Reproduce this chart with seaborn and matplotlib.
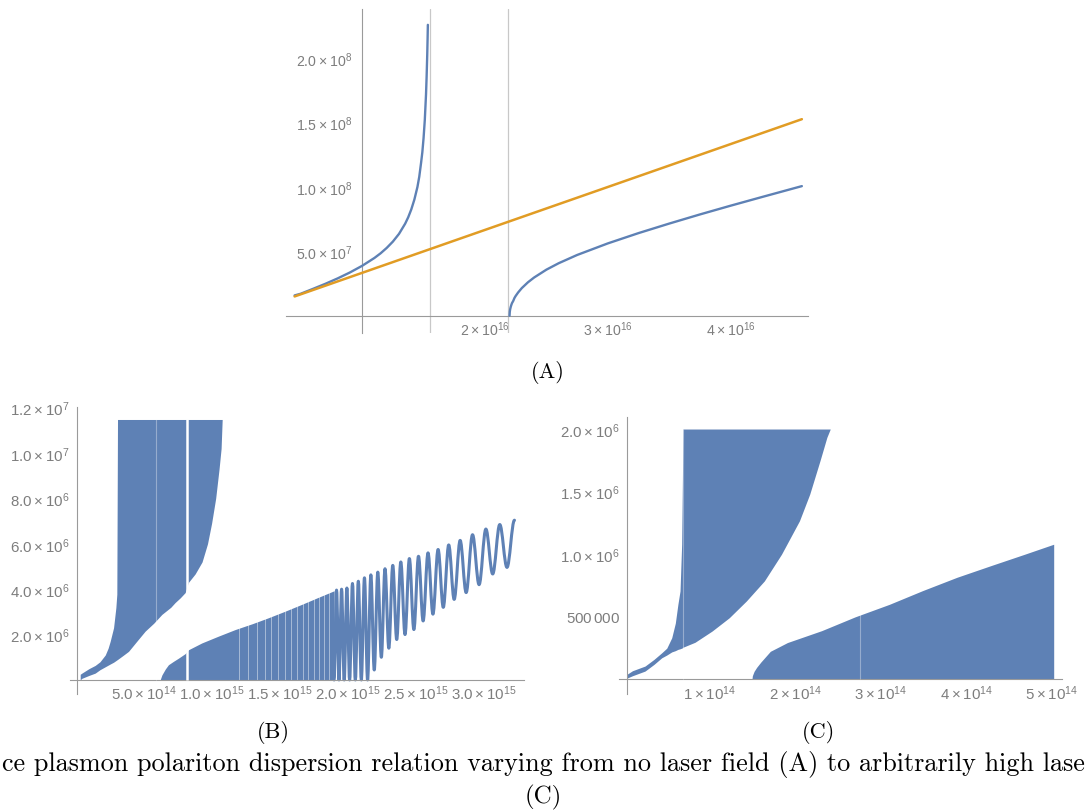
import matplotlib
matplotlib.use("Agg")
import numpy as np
import pandas as pd
import matplotlib.pyplot as plt
import seaborn as sns
from matplotlib.path import Path
from matplotlib.patches import PathPatch

# ---------------- data ----------------
# Panel A  (x in 1e16, y in 1e7)
a_low_x = [0.45, 0.5, 0.6, 0.7, 0.8, 0.9, 1.0, 1.1, 1.15, 1.2, 1.25, 1.3, 1.35, 1.375, 1.4,
           1.425, 1.45, 1.465, 1.48, 1.49, 1.50, 1.51, 1.52, 1.525, 1.53, 1.533, 1.535]
a_low_y = [1.58, 1.71, 2.09, 2.48, 2.90, 3.36, 3.88, 4.49, 4.85, 5.27, 5.76, 6.36, 7.15, 7.65, 8.26,
           9.02, 10.0, 10.8, 11.9, 12.7, 13.8, 15.2, 17.2, 18.6, 20.3, 21.6, 22.6]
a_up_x = [2.20, 2.202, 2.205, 2.21, 2.215, 2.22, 2.23, 2.24, 2.25, 2.27, 2.30, 2.35, 2.4, 2.5,
          2.6, 2.75, 3.0, 3.25, 3.5, 3.75, 4.0, 4.25, 4.58]
a_up_y = [0.0, 0.31, 0.50, 0.70, 0.85, 0.98, 1.15, 1.38, 1.54, 1.81, 2.15, 2.60, 2.97, 3.58,
          4.08, 4.72, 5.62, 6.42, 7.16, 7.87, 8.55, 9.21, 10.07]
a_light_x = [0.45, 4.58]
a_light_y = [1.50, 15.27]
a_vlines = [1.555, 2.19]
a_xticks = [2, 3, 4]
a_xlabels = [r"2\times10^{16}", r"3\times10^{16}", r"4\times10^{16}"]
a_yticks = [5, 10, 15, 20]
a_ylabels = [r"5.0\times10^{7}", r"1.0\times10^{8}", r"1.5\times10^{8}", r"2.0\times10^{8}"]

# Panel B  (x in 1e15, y in 1e6)
b_left_x = [0.035, 0.047, 0.1, 0.145, 0.18, 0.219, 0.24, 0.255, 0.28, 0.297, 0.304, 0.309,
            0.35, 0.39, 0.45, 0.512, 0.575, 0.635, 0.70, 0.732, 0.77, 0.806, 0.83, 0.879,
            0.93, 0.97, 1.0, 1.03, 1.055, 1.07, 1.078]
b_left_lo = [0.0, 0.07, 0.2, 0.3, 0.45, 0.58, 0.65, 0.7, 0.78, 0.85, 0.88, 0.9,
             1.08, 1.26, 1.7, 2.15, 2.5, 2.89, 3.2, 3.41, 3.62, 3.85, 4.3, 4.67,
             5.2, 6.0, 6.9, 8.0, 9.3, 10.2, 11.48]
b_left_hi = [0.25, 0.3, 0.5, 0.64, 0.8, 1.1, 1.4, 1.7, 2.3, 3.19, 3.78, 11.48,
             11.48, 11.48, 11.48, 11.48, 11.48, 11.48, 11.48, 11.48, 11.48, 11.48, 11.48, 11.48,
             11.48, 11.48, 11.48, 11.48, 11.48, 11.48, 11.48]
b_dense_x = [0.622, 0.635, 0.66, 0.683, 0.72, 0.757, 0.806, 0.83, 0.928, 1.05, 1.173, 1.30,
             1.417, 1.54, 1.662, 1.78, 1.90]
b_dense_hi = [0.0, 0.22, 0.48, 0.67, 0.82, 0.96, 1.16, 1.33, 1.63, 1.93, 2.22, 2.48,
              2.74, 3.03, 3.33, 3.63, 3.93]
b_stripes = [1.20, 1.27, 1.33, 1.39, 1.44, 1.49, 1.54, 1.585, 1.63, 1.67, 1.71, 1.75, 1.79,
             1.825, 1.86]
b_osc_x = [1.90, 1.918, 1.936, 1.955, 1.974, 1.994, 2.014, 2.035, 2.056, 2.078, 2.10, 2.123,
           2.146, 2.170, 2.195, 2.221, 2.247, 2.274, 2.302, 2.331, 2.36, 2.39, 2.421, 2.453,
           2.486, 2.52, 2.554, 2.59, 2.626, 2.664, 2.702, 2.742, 2.782, 2.826, 2.87, 2.917,
           2.965, 3.015, 3.065, 3.117, 3.17, 3.225]
b_osc_y = [0.0, 3.96, 0.0, 4.0, 0.0, 4.05, 0.0, 4.25, 0.0, 4.35, 0.0, 4.5,
           0.0, 4.63, 0.44, 4.75, 1.0, 4.9, 1.4, 5.05, 1.78, 5.2, 2.0, 5.35,
           2.22, 5.45, 2.6, 5.6, 2.9, 5.75, 3.2, 5.95, 3.55, 6.15, 3.85, 6.4,
           4.2, 6.65, 4.67, 6.85, 4.96, 7.04]
b_gaps = [0.82]
b_faint = [0.593]
b_xticks = [0.5, 1.0, 1.5, 2.0, 2.5, 3.0]
b_xlabels = [r"5.0\times10^{14}", r"1.0\times10^{15}", r"1.5\times10^{15}", r"2.0\times10^{15}",
             r"2.5\times10^{15}", r"3.0\times10^{15}"]
b_yticks = [2, 4, 6, 8, 10, 12]
b_ylabels = [r"2.0\times10^{6}", r"4.0\times10^{6}", r"6.0\times10^{6}", r"8.0\times10^{6}",
             r"1.0\times10^{7}", r"1.2\times10^{7}"]

# Panel C  (x in 1e14, y in 1e6)
c_left_x = [0.032, 0.1, 0.246, 0.35, 0.441, 0.50, 0.558, 0.60, 0.63, 0.655, 0.674, 0.683, 0.688,
            0.83, 1.03, 1.23, 1.43, 1.64, 1.84, 2.05, 2.17, 2.29, 2.37, 2.41]
c_left_lo = [0.01, 0.03, 0.067, 0.12, 0.173, 0.195, 0.22, 0.23, 0.24, 0.245, 0.25, 0.253, 0.257,
             0.297, 0.387, 0.493, 0.627, 0.787, 1.0, 1.267, 1.48, 1.747, 1.933, 2.0]
c_left_hi = [0.04, 0.07, 0.107, 0.16, 0.213, 0.25, 0.333, 0.45, 0.6, 0.707, 1.08, 1.6, 2.0,
             2.0, 2.0, 2.0, 2.0, 2.0, 2.0, 2.0, 2.0, 2.0, 2.0, 2.0]
c_right_x = [1.495, 1.50, 1.52, 1.55, 1.60, 1.71, 1.91, 2.31, 2.70, 3.10, 3.49, 3.89, 4.29, 4.68, 5.02]
c_right_hi = [0.0, 0.03, 0.065, 0.097, 0.14, 0.225, 0.295, 0.39, 0.5, 0.6, 0.71, 0.816, 0.91, 1.0, 1.08]
c_faint = [0.688, 2.76]
c_xticks = [1, 2, 3, 4, 5]
c_xlabels = [r"1\times10^{14}", r"2\times10^{14}", r"3\times10^{14}", r"4\times10^{14}", r"5\times10^{14}"]
c_yticks = [0.5, 1.0, 1.5, 2.0]
c_ylabels = [r"500\,000", r"1.0\times10^{6}", r"1.5\times10^{6}", r"2.0\times10^{6}"]

caption = "ce plasmon polariton dispersion relation varying from no laser field (A) to arbitrarily high lase"

# ---------------- style ----------------
BLUE = "#5E81B5"
ORANGE = "#E19C24"
AXC = "#9a9a9a"
LABC = "#7d7d7d"

sns.set_theme(style="white")
plt.rcParams["font.family"] = ["Liberation Sans", "DejaVu Sans"]

W, H = 1086, 812
fig = plt.figure(figsize=(W / 100, H / 100), dpi=100)
fig.patch.set_facecolor("white")


def add_axes_px(left, right, top, bottom):
    return fig.add_axes([left / W, 1 - bottom / H, (right - left) / W, (bottom - top) / H])


def style_axes(ax, xlim, ylim, yaxis_at, xt, xl, xminor, yt, yl, yminor, lsize, ypad):
    ax.set_facecolor("none")
    ax.set_xlim(*xlim)
    ax.set_ylim(*ylim)
    for s in ["top", "right"]:
        ax.spines[s].set_visible(False)
    ax.spines["left"].set_position(("data", yaxis_at))
    ax.spines["bottom"].set_position(("data", 0))
    for s in ["left", "bottom"]:
        ax.spines[s].set_color(AXC)
        ax.spines[s].set_linewidth(0.8)
    ax.set_xticks(xt)
    ax.set_xticklabels([r"$\mathregular{" + s + "}$" if s else "" for s in xl])
    ax.set_xticks(xminor, minor=True)
    ax.set_yticks(yt)
    ax.set_yticklabels([r"$\mathregular{" + s + "}$" for s in yl])
    ax.set_yticks(yminor, minor=True)
    ax.tick_params(which="major", direction="in", length=3.8, width=0.7, color=AXC,
                   labelcolor=LABC, labelsize=lsize)
    ax.tick_params(which="minor", direction="in", length=2.0, width=0.6, color=AXC)
    ax.tick_params(axis="x", pad=2.5)
    ax.tick_params(axis="y", pad=ypad)
    ax.set_xlabel("")
    ax.set_ylabel("")
    ax.grid(False)


# ---------------- panel A ----------------
axA = add_axes_px(286, 808, 10, 334)
for xv in a_vlines:
    axA.axvline(xv, color="#c8c8c8", lw=0.9, zorder=1)
dfA1 = pd.DataFrame({"x": a_low_x, "y": a_low_y})
dfA2 = pd.DataFrame({"x": a_up_x, "y": a_up_y})
dfA3 = pd.DataFrame({"x": a_light_x, "y": a_light_y})
sns.lineplot(data=dfA1, x="x", y="y", ax=axA, color=BLUE, lw=1.7, sort=False, zorder=3)
sns.lineplot(data=dfA2, x="x", y="y", ax=axA, color=BLUE, lw=1.7, sort=False, zorder=3)
sns.lineplot(data=dfA3, x="x", y="y", ax=axA, color=ORANGE, lw=1.8, sort=False, zorder=4)
style_axes(axA, (0.38, 4.63), (-1.34, 23.83), 1.0,
           [1] + a_xticks, [""] + a_xlabels,
           [v / 10 for v in range(4, 47, 2)],
           a_yticks, a_ylabels, list(range(-1, 24)), 10.2, 7.0)

# ---------------- panel B ----------------
axB = add_axes_px(70, 524, 408, 695)
axB.fill_between(b_left_x, b_left_lo, b_left_hi, color=BLUE, lw=0, zorder=2)
dense = axB.fill_between(b_dense_x, 0, b_dense_hi, color=BLUE, lw=0, zorder=2)
stripes = axB.vlines(b_stripes, 0, 12, color="white", lw=0.7, alpha=0.45, zorder=3)
stripes.set_clip_path(dense.get_paths()[0], transform=axB.transData)
verts = [(b_osc_x[0], b_osc_y[0])]
codes = [Path.MOVETO]
for i in range(len(b_osc_x) - 1):
    xa, ya, xb, yb = b_osc_x[i], b_osc_y[i], b_osc_x[i + 1], b_osc_y[i + 1]
    d = xb - xa
    verts += [(xa + 0.364 * d, ya), (xb - 0.364 * d, yb), (xb, yb)]
    codes += [Path.CURVE4] * 3
axB.add_patch(PathPatch(Path(verts, codes), fill=False, edgecolor=BLUE, lw=2.2,
                        capstyle="round", joinstyle="round", zorder=2))
axB.vlines(b_gaps, 0, 11.48, color="white", lw=1.8, zorder=3)
axB.vlines(b_faint, 0.0, 11.48, color="white", lw=0.8, alpha=0.35, zorder=3)
style_axes(axB, (-0.04, 3.295), (-0.62, 12.03), 0.01,
           b_xticks, b_xlabels, [v / 10 for v in range(1, 33)],
           b_yticks, b_ylabels, [v / 2 for v in range(0, 24)], 10.8, 5.5)

# ---------------- panel C ----------------
axC = add_axes_px(619, 1062, 418, 695)
axC.fill_between(c_left_x, c_left_lo, c_left_hi, color=BLUE, lw=0, zorder=2)
axC.fill_between(c_right_x, 0, c_right_hi, color=BLUE, lw=0, zorder=2)
axC.vlines(c_faint, 0.0, [2.0, 0.55], color="white", lw=0.8, alpha=0.35, zorder=3)
style_axes(axC, (-0.058, 5.117), (-0.116, 2.096), 0.04,
           c_xticks, c_xlabels, [v / 5 for v in range(1, 26)],
           c_yticks, c_ylabels, [v / 10 for v in range(0, 21)], 10.8, 5.5)

# ---------------- captions ----------------
def ftext(x, y, s, size):
    return fig.text(x / W, 1 - y / H, s, ha="center", va="center", fontfamily="cmr10",
                    fontsize=size, color="black")

ftext(548, 373, "(A)", 16)
ftext(273, 733, "(B)", 16)
ftext(819, 733, "(C)", 16)
cap = ftext(543, 765, caption, 18)
ftext(543, 797, "(C)", 18)
fig.canvas.draw()
w = cap.get_window_extent().width
cap.set_fontsize(18 * 1084 / w)

fig.savefig("out.png", dpi=100, facecolor="white")
